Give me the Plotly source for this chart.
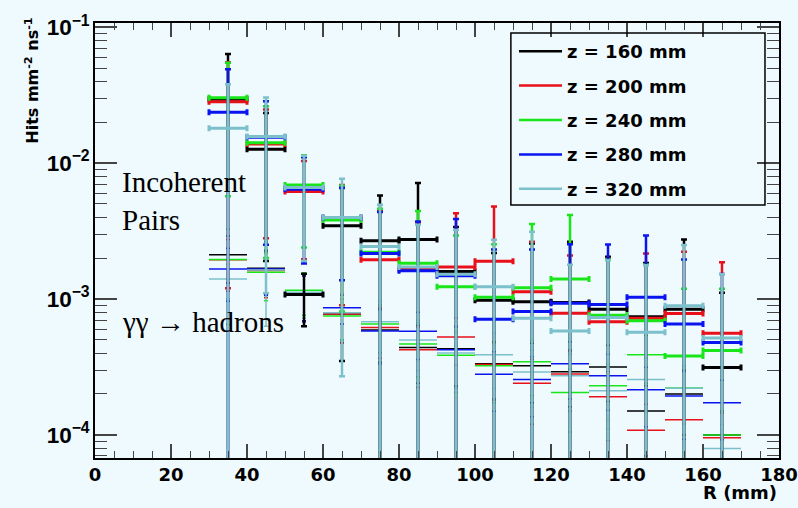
import plotly.graph_objects as go

# Bin centres (R in mm)
R = [35, 45, 55, 65, 75, 85, 95, 105, 115, 125, 135, 145, 155, 165]
half_width = 5

series_names = ["z = 160 mm", "z = 200 mm", "z = 240 mm", "z = 280 mm", "z = 320 mm"]
series_colors = ["#000000", "#E8101A", "#19E619", "#0A14F0", "#7CC0CC"]

# Incoherent pairs
inc_160 = [0.0294, 0.0126, 0.00108, 0.00345, 0.00268, 0.00274, 0.00159, 0.00098, 0.000955, 0.00094, 0.00084, 0.00074, 0.00084, 0.000313]
inc_200 = [0.0282, 0.0138, 0.00616, 0.0039, 0.00194, 0.00165, 0.00172, 0.00189, 0.00113, 0.000785, 0.00068, 0.00072, 0.00078, 0.00056]
inc_240 = [0.0302, 0.0141, 0.00689, 0.00381, 0.00221, 0.00183, 0.00123, 0.00103, 0.00121, 0.0014, 0.00076, 0.00069, 0.00038, 0.000417]
inc_280 = [0.0236, 0.0155, 0.00642, 0.00397, 0.00216, 0.00161, 0.00148, 0.00071, 0.000807, 0.00093, 0.00091, 0.00103, 0.000655, 0.000479]
inc_320 = [0.018, 0.0157, 0.0066, 0.00397, 0.00243, 0.00172, 0.00152, 0.00123, 0.000722, 0.000582, 0.00073, 0.00057, 0.00089, 0.000517]

inc_160_err = [0.0339, 0.0107, 0.00045, 0.0031, 0.0031, 0.0044, 0.0018, 0.0012, 0.0016, 0.0017, 0.0012, 0.0011, 0.0019, 0.0008]
inc_200_err = [0.027, 0.011, 0.0042, 0.003, 0.0025, 0.002, 0.00255, 0.0029, 0.0015, 0.0013, 0.0013, 0.00144, 0.00144, 0.0013]
inc_240_err = [0.0245, 0.0121, 0.0045, 0.003, 0.0024, 0.0026, 0.0017, 0.0015, 0.00235, 0.00275, 0.0012, 0.0011, 0.00081, 0.00077]
inc_280_err = [0.0253, 0.013, 0.0046, 0.0026, 0.0022, 0.0021, 0.0024, 0.0016, 0.0015, 0.0016, 0.0016, 0.0019, 0.0013, 0.00105]
inc_320_err = [0.0199, 0.0146, 0.0047, 0.0037, 0.0025, 0.0018, 0.0017, 0.0015, 0.0024, 0.0012, 0.0012, 0.0012, 0.0016, 0.001]

# gamma gamma -> hadrons
gg_160 = [0.00211, 0.00168, 0.00108, 0.000776, 0.000592, 0.00044, 0.00043, 0.000334, 0.000322, 0.000291, 0.000316, 0.00015, 0.0002, 0.0001]
gg_200 = [0.00194, 0.00162, 0.00109, 0.000776, 0.000616, 0.000423, 0.000525, 0.00033, 0.00024, 0.00028, 0.000191, 0.000108, 0.000129, 0.0000951]
gg_240 = [0.00195, 0.00157, 0.00116, 0.00075, 0.000653, 0.000467, 0.000385, 0.000322, 0.000345, 0.000205, 0.00023, 0.000389, 0.000221, 0.0001]
gg_280 = [0.00166, 0.00166, 0.00109, 0.000863, 0.000582, 0.000578, 0.000423, 0.000279, 0.000256, 0.000334, 0.000272, 0.000215, 0.000193, 0.000172]
gg_320 = [0.0014, 0.00163, 0.00112, 0.00079, 0.00068, 0.000498, 0.0004, 0.000389, 0.00029, 0.000272, 0.000211, 0.000256, 0.00022, 0.0000793]

gg_160_err = [0.0008, 0.0006, 0.0004, 0.0003, 0.00025, 0.0002, 0.0002, 0.00015, 0.00015, 0.00013, 0.00014, 0.00008, 0.0001, 0.00005]
gg_200_err = [0.0008, 0.0006, 0.0004, 0.0003, 0.00025, 0.0002, 0.0002, 0.00015, 0.00012, 0.00013, 0.0001, 0.00006, 0.00007, 0.00005]
gg_240_err = [0.0013, 0.0006, 0.0004, 0.00025, 0.00025, 0.0002, 0.00018, 0.00015, 0.00015, 0.0001, 0.0001, 0.00015, 0.0001, 0.00005]
gg_280_err = [0.0007, 0.0006, 0.0004, 0.00021, 0.00025, 0.00022, 0.0002, 0.00013, 0.00012, 0.00015, 0.00012, 0.0001, 0.0001, 0.00008]
gg_320_err = [0.0004, 0.001, 0.0004, 0.0003, 0.00028, 0.0002, 0.00018, 0.00017, 0.00013, 0.00012, 0.0001, 0.00011, 0.0001, 0.00004]

x_tick_vals = [0, 20, 40, 60, 80, 100, 120, 140, 160, 180]

inc_sets = [(inc_160, inc_160_err), (inc_200, inc_200_err), (inc_240, inc_240_err),
            (inc_280, inc_280_err), (inc_320, inc_320_err)]
gg_sets = [(gg_160, gg_160_err), (gg_200, gg_200_err), (gg_240, gg_240_err),
           (gg_280, gg_280_err), (gg_320, gg_320_err)]

BG = "#EEFAFE"
SANS = "DejaVu Sans, Verdana, sans-serif"
SERIF = "Liberation Serif, Times New Roman, serif"

fig = go.Figure()

for i, col in enumerate(series_colors):
    gv, ge = gg_sets[i]
    fig.add_trace(go.Scatter(
        x=R, y=gv, mode="markers", showlegend=False, hoverinfo="x+y",
        marker=dict(size=2, color=col, symbol="square"),
        error_x=dict(type="constant", value=half_width, thickness=1.5, width=0, color=col),
        error_y=dict(type="data", array=ge, thickness=1.5, width=2, color=col),
    ))
for i, col in enumerate(series_colors):
    iv, ie = inc_sets[i]
    fig.add_trace(go.Scatter(
        x=R, y=iv, mode="markers", showlegend=False, hoverinfo="x+y",
        marker=dict(size=3, color=col, symbol="square"),
        error_x=dict(type="constant", value=half_width, thickness=3, width=3, color=col),
        error_y=dict(type="data", array=ie, thickness=2.5, width=3, color=col),
    ))

# legend entries
for name, col in zip(series_names, series_colors):
    fig.add_trace(go.Scatter(x=[None], y=[None], mode="lines", name=name,
                             legendgroup=name, line=dict(color=col, width=2.5)))

x_font = dict(family=SANS, size=18, color="black", weight="bold")
y_font = dict(family="Liberation Sans, Arial, sans-serif", size=18, color="black", weight="bold")

fig.update_layout(
    width=798, height=508,
    margin=dict(l=95, r=19, t=23, b=50),
    paper_bgcolor=BG, plot_bgcolor=BG,
    font=dict(family=SANS, size=16, color="black"),
    showlegend=True,
    legend=dict(x=0.6126, y=0.977, xanchor="left", yanchor="top",
                bgcolor="rgba(0,0,0,0)", borderwidth=0,
                font=dict(family=SANS, size=18, color="black", weight="bold"),
                itemwidth=43, tracegroupgap=8),
    xaxis=dict(range=[0, 180], tickvals=x_tick_vals, ticks="inside", ticklen=14, tickwidth=1.5,
               showline=True, linecolor="black", linewidth=1.5, mirror="ticks",
               showgrid=False, zeroline=False, tickfont=x_font, automargin=False,
               minor=dict(dtick=5, ticks="inside", ticklen=7, tickwidth=1.2, showgrid=False)),
    yaxis=dict(type="log", range=[-4.17, -0.97], dtick=1, exponentformat="power",
               ticks="inside", ticklen=22, tickwidth=1.5,
               showline=True, linecolor="black", linewidth=1.5, mirror="ticks",
               showgrid=False, zeroline=False, tickfont=y_font, automargin=False,
               minor=dict(dtick="D1", ticks="inside", ticklen=12, tickwidth=1.2, showgrid=False)),
    shapes=[dict(type="rect", xref="paper", yref="paper", x0=0.608, x1=0.9795, y0=0.5816, y1=0.977,
                 line=dict(color="black", width=1.5), layer="above")],
    annotations=[
        dict(text="Hits mm<sup>-2</sup> ns<sup>-1</sup>", xref="paper", yref="paper",
             x=-0.091, y=0.869, textangle=-90, showarrow=False, xanchor="center", yanchor="middle",
             font=dict(family=SANS, size=16, color="black", weight="bold")),
        dict(text="R (mm)", xref="paper", yref="paper", x=1.0, y=-0.08, showarrow=False,
             xanchor="right", yanchor="middle",
             font=dict(family=SANS, size=18, color="black", weight="bold")),
        dict(text="Incoherent<br>Pairs", xref="paper", yref="paper", x=0.036, y=0.59, showarrow=False,
             xanchor="left", yanchor="middle", align="left",
             font=dict(family=SERIF, size=29, color="black", weight="normal")),
        dict(text="γγ → hadrons", xref="paper", yref="paper", x=0.036, y=0.312, showarrow=False,
             xanchor="left", yanchor="middle", align="left",
             font=dict(family=SERIF, size=29, color="black", weight="normal")),
    ],
)

fig.write_html("out.html", config={"responsive": False, "displayModeBar": False},
               post_script="document.body.style.margin='0';document.body.style.padding='0';")
